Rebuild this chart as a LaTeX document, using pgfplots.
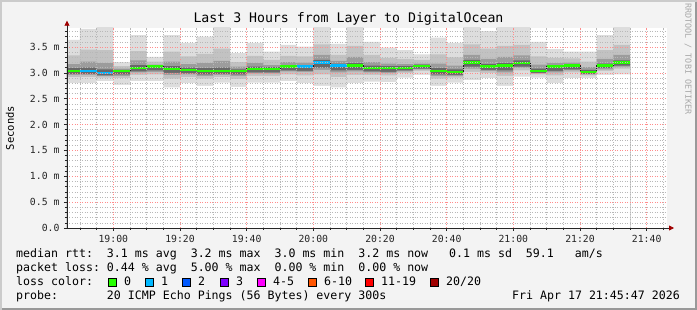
\documentclass[border=0pt]{standalone}
\usepackage{fontspec}
\setmainfont{DejaVu Sans Mono}[WordSpace={1,0,0},PunctuationSpace=0]
\usepackage{pgfplots}
\pgfplotsset{compat=1.18}
\usepackage{pgfplotstable}
\usetikzlibrary{arrows.meta}
\frenchspacing
\definecolor{bgc}{HTML}{F3F3F3}
\definecolor{shA}{HTML}{CBCBCB}
\definecolor{shB}{HTML}{999999}
\definecolor{sA}{HTML}{DDDDDD}
\definecolor{sB}{HTML}{C2C2C2}
\definecolor{sC}{HTML}{9C9C9C}
\definecolor{sD}{HTML}{686868}
\definecolor{arr}{HTML}{A00000}
\definecolor{l0}{HTML}{26FF00}
\definecolor{l1}{HTML}{00B8FF}
\definecolor{l2}{HTML}{0059FF}
\definecolor{l3}{HTML}{7E00FF}
\definecolor{l4}{HTML}{FF00FF}
\definecolor{l6}{HTML}{FF5500}
\definecolor{l11}{HTML}{FF0000}
\definecolor{l20}{HTML}{A00000}
\definecolor{wm}{HTML}{A8A8A8}
\newcommand\axf{\fontsize{9.8}{11}\selectfont}
\newcommand\lgf{\fontsize{11.6}{14}\selectfont}
\pgfplotstableread{
x lo1 hi1 lo2 hi2 lo3 hi3 lo4 hi4 med
46.1 2.80 3.64 2.92 3.34 2.96 3.17 2.98 3.09 3.04
50 2.80 3.85 2.92 3.45 2.96 3.22 2.98 3.10 3.04
55 2.84 3.90 2.91 3.44 2.94 3.19 2.95 3.07 3.00
60 2.77 3.21 2.90 3.13 2.94 3.08 2.97 3.06 3.04
65 2.84 3.73 2.96 3.42 3.01 3.24 3.03 3.15 3.10
70 2.84 3.31 2.97 3.22 3.02 3.16 3.05 3.14 3.12
75 2.72 3.73 2.89 3.41 2.96 3.22 3.00 3.13 3.08
80 2.80 3.58 2.92 3.32 2.97 3.17 2.99 3.10 3.06
85 2.75 3.70 2.89 3.37 2.94 3.19 2.97 3.09 3.04
90 2.81 3.90 2.92 3.47 2.96 3.23 2.98 3.10 3.04
95 2.73 3.38 2.88 3.21 2.94 3.12 2.97 3.07 3.04
100 2.81 3.58 2.94 3.33 2.99 3.19 3.01 3.12 3.08
105 2.81 3.41 2.94 3.25 2.99 3.15 3.01 3.11 3.08
110 2.84 3.54 2.97 3.33 3.03 3.21 3.05 3.15 3.12
115 2.80 3.51 2.95 3.32 3.02 3.20 3.04 3.15 3.12
120 2.75 3.90 2.97 3.55 3.06 3.35 3.10 3.25 3.20
125 2.72 3.56 2.92 3.35 3.01 3.23 3.05 3.18 3.14
130 2.80 3.90 2.96 3.52 3.03 3.31 3.06 3.19 3.14
135 2.83 3.60 2.96 3.35 3.01 3.21 3.03 3.14 3.10
140 2.82 3.49 2.95 3.29 3.00 3.18 3.02 3.13 3.09
145 2.91 3.44 3.00 3.27 3.03 3.17 3.05 3.13 3.10
150 2.96 3.36 3.04 3.25 3.07 3.18 3.08 3.16 3.13
155 2.75 3.68 2.89 3.36 2.94 3.18 2.97 3.09 3.04
160 2.81 3.58 2.91 3.30 2.94 3.14 2.96 3.07 3.02
165 2.86 3.90 3.02 3.55 3.08 3.35 3.12 3.25 3.20
170 2.90 3.81 3.00 3.47 3.04 3.27 3.06 3.17 3.12
175 2.75 3.90 2.94 3.52 3.01 3.31 3.05 3.19 3.14
180 2.93 3.90 3.05 3.54 3.10 3.34 3.12 3.24 3.19
185 2.91 3.60 2.97 3.32 2.99 3.16 3.00 3.08 3.04
190 2.80 3.46 2.95 3.29 3.01 3.19 3.04 3.15 3.12
195 2.90 3.41 3.01 3.28 3.05 3.20 3.07 3.17 3.14
200 2.90 3.41 2.95 3.22 2.97 3.11 2.98 3.06 3.02
205 2.96 3.73 3.04 3.44 3.07 3.27 3.09 3.18 3.14
210 2.97 3.90 3.08 3.54 3.12 3.35 3.14 3.24 3.20
215 2.97 3.90 3.08 3.54 3.12 3.35 3.14 3.24 3.20
}\smoke
\begin{document}
\begin{tikzpicture}[x=1pt,y=1pt]
\fill[bgc] (0,0) rectangle (697,310);
\fill[shA] (0,0) rectangle (2,310);
\fill[shA] (0,308) rectangle (697,310);
\fill[shB] (695,0) rectangle (697,308);
\fill[shB] (2,0) rectangle (697,2);
\begin{axis}[
  at={(67pt,82pt)}, anchor=south west,
  scale only axis, width=600pt, height=200.3pt,
  xmin=46.1, xmax=226.1, ymin=0, ymax=3.874,
  axis x line=bottom, axis y line=left,
  axis background/.style={fill=white},
  axis line style={black!85, line width=0.8pt},
  x axis line style={-{Triangle[length=5pt,width=5pt,color=arr]}, shorten >=-7pt},
  y axis line style={-{Triangle[length=5pt,width=5pt,color=arr]}, shorten >=-7pt},
  xtick={60,80,100,120,140,160,180,200,220},
  xticklabels={19:00,19:20,19:40,20:00,20:20,20:40,21:00,21:20,21:40},
  minor xtick={50,55,...,225},
  ytick={0,0.5,1,1.5,2,2.5,3,3.5},
  yticklabels={0.0,0.5 m,1.0 m,1.5 m,2.0 m,2.5 m,3.0 m,3.5 m},
  minor ytick={0.1,0.2,0.3,0.4,0.6,0.7,0.8,0.9,1.1,1.2,1.3,1.4,1.6,1.7,1.8,1.9,2.1,2.2,2.3,2.4,2.6,2.7,2.8,2.9,3.1,3.2,3.3,3.4,3.6,3.7,3.8},
  grid=both,
  major grid style={draw=red!45, line width=0.6pt, dash pattern=on 1pt off 1.5pt},
  minor grid style={draw=black!28, line width=0.6pt, dash pattern=on 1pt off 1.5pt},
  tick align=outside, major tick length=3pt, minor tick length=2pt,
  tick style={black!85, line width=0.6pt},
  tick label style={font=\axf, text=black!85},
  xticklabel style={anchor=north, yshift=-1pt},
  yticklabel style={anchor=east, xshift=-1pt},
  axis on top,
  smk/.style={draw=none, const plot mark left, forget plot},
]
\addplot[smk, fill=sA] table[x=x,y=hi1]{\smoke} \closedcycle;
\addplot[smk, fill=sB] table[x=x,y=hi2]{\smoke} \closedcycle;
\addplot[smk, fill=sC] table[x=x,y=hi3]{\smoke} \closedcycle;
\addplot[smk, fill=sD] table[x=x,y=hi4]{\smoke} \closedcycle;
\addplot[smk, fill=sC] table[x=x,y=lo4]{\smoke} \closedcycle;
\addplot[smk, fill=sB] table[x=x,y=lo3]{\smoke} \closedcycle;
\addplot[smk, fill=sA] table[x=x,y=lo2]{\smoke} \closedcycle;
\addplot[smk, fill=white] table[x=x,y=lo1]{\smoke} \closedcycle;
\addplot[black!90, line width=0.8pt, const plot mark left] table[x=x,y=med]{\smoke};
\addplot[l0, line width=2.4pt, jump mark left] table{
46.1 3.04
50 3.04
};
\addplot[l1, line width=2.4pt, jump mark left] table{
50 3.04
55 3.00
60 3.00
};
\addplot[l0, line width=2.4pt, jump mark left] table{
60 3.04
65 3.10
70 3.12
75 3.08
80 3.06
85 3.04
90 3.04
95 3.04
100 3.08
105 3.08
110 3.12
115 3.12
};
\addplot[l1, line width=2.4pt, jump mark left] table{
115 3.12
120 3.20
125 3.14
130 3.14
};
\addplot[l0, line width=2.4pt, jump mark left] table{
130 3.14
135 3.10
140 3.09
145 3.10
150 3.13
155 3.04
160 3.02
165 3.20
170 3.12
175 3.14
180 3.19
185 3.04
190 3.12
195 3.14
200 3.02
205 3.14
210 3.20
215 3.20
};
\end{axis}
\node[font=\fontsize{13.2}{15}\selectfont] at (348.5,291) {Last 3 Hours from Layer to DigitalOcean};
\node[font=\fontsize{10.5}{12}\selectfont, rotate=90] at (10,182) {Seconds};
\node[font=\fontsize{8.4}{10}\selectfont, rotate=-90, text=wm] at (688,251) {RRDTOOL / TOBI OETIKER};
\node[font=\lgf, anchor=base west, inner sep=0pt] at (16,52) {median rtt:~~3.1 ms avg~~3.2 ms max~~3.0 ms min~~3.2 ms now~~~0.1 ms sd~~59.1~~~am/s};
\node[font=\lgf, anchor=base west, inner sep=0pt] at (16,38) {packet loss: 0.44 \% avg~~5.00 \% max~~0.00 \% min~~0.00 \% now};
\node[font=\lgf, anchor=base west, inner sep=0pt] at (16,24) {loss color:};
\node[font=\lgf, anchor=base west, inner sep=0pt] at (16,10) {probe:~~~~~~~20 ICMP Echo Pings (56 Bytes) every 300s};
\node[font=\lgf, anchor=base east, inner sep=0pt] at (680,10) {Fri Apr 17 21:45:47 2026};
\foreach \bx/\col/\lab in {108/l0/0,145/l1/1,182/l2/2,220/l3/3,257/l4/4-5,308/l6/6-10,365/l11/11-19,430/l20/{20/20}}{
  \filldraw[fill=\col, draw=black, line width=0.8pt] (\bx,24) rectangle ++(8,8);
  \node[font=\lgf, anchor=base west, inner sep=0pt] at (\bx+16,24) {\lab};
}
\end{tikzpicture}
\end{document}
